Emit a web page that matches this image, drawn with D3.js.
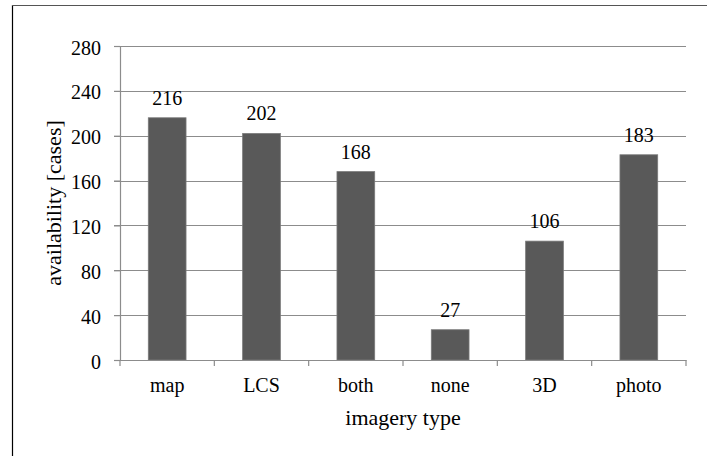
<!DOCTYPE html>
<html><head><meta charset="utf-8">
<script src="https://cdn.jsdelivr.net/npm/d3@7"></script>
<style>body{margin:0;background:#fff}</style>
</head><body><svg id="c" width="707" height="456"></svg>
<script>
const categories = ["map","LCS","both","none","3D","photo"];
const values = [216,202,168,27,106,183];
const yTicks = [0,40,80,120,160,200,240,280];

const FONT = "'Liberation Serif', 'Times New Roman', 'DejaVu Serif', serif";
const svg = d3.select("#c");
// outer frame
svg.append("line").attr("x1",12.5).attr("x2",12.5).attr("y1",5).attr("y2",456).attr("stroke","#000").attr("stroke-width",1.2);
svg.append("line").attr("x1",12).attr("x2",707).attr("y1",5.5).attr("y2",5.5).attr("stroke","#555").attr("stroke-width",1.2);

const x = d3.scaleBand().domain(categories).range([120,686]).padding(0);
const y = d3.scaleLinear().domain([0,280]).range([360,46]);

// gridlines
svg.append("g").selectAll("line").data(yTicks.filter(d=>d>0)).join("line")
  .attr("x1",114).attr("x2",686).attr("y1",d=>Math.round(y(d))+0.5).attr("y2",d=>Math.round(y(d))+0.5)
  .attr("stroke","#8c8c8c").attr("stroke-width",1.2);

// bars
const bw = x.bandwidth()*0.4;
svg.append("g").selectAll("rect").data(values).join("rect")
  .attr("x",(d,i)=>x(categories[i])+x.bandwidth()/2-bw/2)
  .attr("y",d=>y(d)).attr("width",bw).attr("height",d=>y(0)-y(d))
  .attr("fill","#595959").attr("stroke","#7a7a7a").attr("stroke-width",0.8);

// y axis
const ya = svg.append("g").attr("transform","translate(120,0)")
  .call(d3.axisLeft(y).tickValues(yTicks).tickSize(6).tickPadding(13));
ya.attr("font-family",null).attr("font-size",null);
ya.select(".domain").attr("stroke","#8c8c8c").attr("stroke-width",1.2);
ya.selectAll(".tick line").attr("stroke","#8c8c8c").attr("stroke-width",1.2);
ya.selectAll("text").attr("dy","0.4em").style("font-size","20px").style("font-family",FONT).attr("fill","#000");

// x axis
const xa = svg.append("g").attr("transform","translate(0,360)")
  .call(d3.axisBottom(x).tickSize(0).tickPadding(17));
xa.attr("font-family",null).attr("font-size",null);
xa.select(".domain").attr("stroke","#8c8c8c").attr("stroke-width",1.2);
xa.selectAll("text").attr("dy",null).attr("y",32).style("font-size","20px").style("font-family",FONT).attr("fill","#000");
// category boundary ticks
svg.append("g").selectAll("line").data(d3.range(categories.length+1)).join("line")
  .attr("x1",i=>120+i*x.step()).attr("x2",i=>120+i*x.step())
  .attr("y1",360).attr("y2",366).attr("stroke","#8c8c8c").attr("stroke-width",1.2);

// value labels
svg.append("g").selectAll("text").data(values).join("text")
  .attr("x",(d,i)=>x(categories[i])+x.bandwidth()/2).attr("y",d=>y(d)-13)
  .attr("text-anchor","middle").style("font-size","20px").style("font-family",FONT).attr("fill","#000").text(d=>d);

// axis titles
svg.append("text").attr("x",403).attr("y",425).attr("text-anchor","middle").style("font-size","22px").style("font-family",FONT).attr("fill","#000").text("imagery type");
svg.append("text").attr("transform","translate(61,203) rotate(-90)").attr("text-anchor","middle").style("font-size","22px").style("font-family",FONT).attr("fill","#000").text("availability [cases]");
</script></body></html>
